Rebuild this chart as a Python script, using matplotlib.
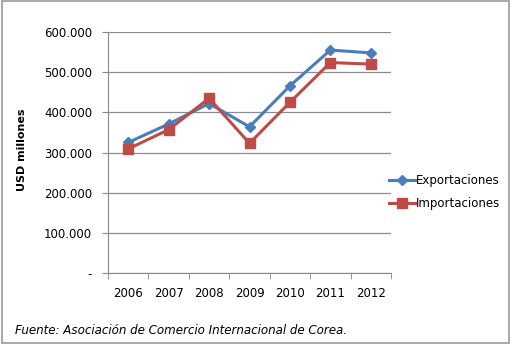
import numpy as np
import matplotlib
matplotlib.use("Agg")
import matplotlib.pyplot as plt
from matplotlib.patches import Rectangle
from matplotlib.ticker import FuncFormatter, FixedLocator

years = ["2006", "2007", "2008", "2009", "2010", "2011", "2012"]
exportaciones = [325, 371, 422, 364, 466, 555, 548]
importaciones = [309, 357, 435, 323, 425, 524, 520]
y_ticks = [0, 100, 200, 300, 400, 500, 600]

BLUE = "#4A7EBB"
RED = "#BE4B48"


def fmt(v, pos):
    if v == 0:
        return "-"
    return f"{int(v)}.000"


def main():
    plt.rcParams["font.family"] = "DejaVu Sans"
    fig = plt.figure(figsize=(5.16, 3.51), dpi=100)
    ax = fig.add_axes([0.2093, 0.2222, 0.5485, 0.6866])

    x = np.arange(len(years))
    ax.plot(x, exportaciones, color=BLUE, lw=2.2, marker="D", ms=4.8,
            label="Exportaciones", zorder=3)
    ax.plot(x, importaciones, color=RED, lw=2.2, marker="s", ms=6.5,
            label="Importaciones", zorder=3)

    ax.set_xlim(-0.5, len(years) - 0.5)
    ax.set_ylim(0, 600)
    ax.set_yticks(y_ticks)
    ax.yaxis.set_major_formatter(FuncFormatter(fmt))
    ax.set_xticks(x)
    ax.set_xticklabels(years)
    ax.xaxis.set_minor_locator(FixedLocator(np.arange(-0.5, len(years), 1.0)))
    ax.tick_params(axis="x", which="major", length=0, labelsize=8.5, pad=10)
    ax.tick_params(axis="x", which="minor", length=4, color="#888888")
    ax.tick_params(axis="y", length=4, color="#888888", labelsize=8.5, pad=7.5)
    ax.grid(axis="y", color="#8c8c8c", lw=0.9)
    ax.set_axisbelow(True)
    for s in ["top", "right"]:
        ax.spines[s].set_visible(False)
    ax.spines["left"].set_color("#888888")
    ax.spines["bottom"].set_color("#888888")

    fig.text(0.043, 0.573, "USD millones", rotation=90, fontsize=8,
             fontweight="bold", ha="center", va="center")
    fig.text(0.029, 0.057, "Fuente: Asociación de Comercio Internacional de Corea.",
             fontsize=8.6, style="italic", ha="left", va="center")

    ax.legend(loc="upper left", bbox_to_anchor=(0.742, 0.52),
              bbox_transform=fig.transFigure, frameon=False, fontsize=8.5,
              handlelength=2.2, handletextpad=0.1, labelspacing=0.85,
              borderpad=0)

    fig.patches.append(Rectangle((0.004, 0.022), 0.982, 0.974,
                                 transform=fig.transFigure, fill=False,
                                 edgecolor="#999999", lw=1.2))

    fig.savefig("out.png", dpi=100)


if __name__ == "__main__":
    main()
